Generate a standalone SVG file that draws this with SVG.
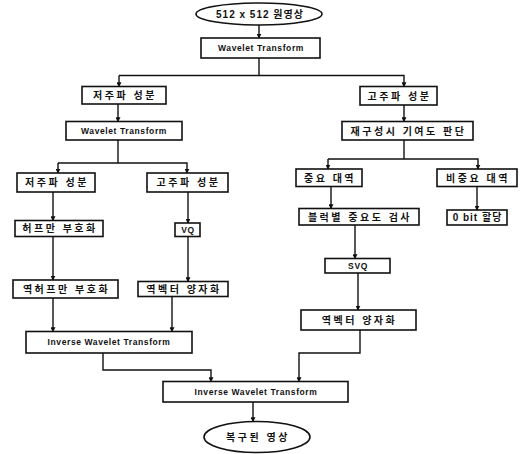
<svg xmlns="http://www.w3.org/2000/svg" width="521" height="454" viewBox="0 0 521 454">
<style>
.b{fill:#fff;stroke:#111;stroke-width:1.6}
.t{font-family:"Liberation Sans","Noto Sans CJK KR",sans-serif;font-size:10px;font-weight:bold;fill:#111;text-anchor:middle;dominant-baseline:central;letter-spacing:2.5px}
.s{letter-spacing:1px}
.e{font-family:"Liberation Sans",Arial,sans-serif;font-size:8.5px;font-weight:bold;fill:#111;text-anchor:middle;dominant-baseline:central;letter-spacing:0.6px}
.c{fill:none;stroke:#111;stroke-width:1.4;marker-end:url(#a)}
.l{fill:none;stroke:#111;stroke-width:1.4}
</style>
<defs>
<marker id="a" viewBox="0 0 8 8" refX="7" refY="4" markerWidth="5" markerHeight="5" orient="auto" markerUnits="userSpaceOnUse"><path d="M0,0L8,4L0,8z" fill="#111"/></marker>
</defs>
<rect width="521" height="454" fill="#fff"/>
<g id="connectors">
<path class="c" d="M259,25V38"/>
<path class="l" d="M259,58V75.5"/>
<path class="c" d="M119,75.5H404V86.5"/>
<path class="c" d="M119,75.5V86.5"/>
<path class="c" d="M118,104V121.5"/>
<path class="c" d="M404,105V121.5"/>
<path class="l" d="M118,140V163"/>
<path class="c" d="M58,163H187V173"/>
<path class="c" d="M58,163V173"/>
<path class="l" d="M404,140V159"/>
<path class="c" d="M328,159H478V169"/>
<path class="c" d="M328,159V169"/>
<path class="c" d="M53,192V220.5"/>
<path class="c" d="M188,192V223"/>
<path class="c" d="M53,236.5V280"/>
<path class="c" d="M188,236.5V281.5"/>
<path class="c" d="M331,186.5V208.5"/>
<path class="c" d="M477,186.5V210"/>
<path class="c" d="M355,225V258.5"/>
<path class="c" d="M358,273V310"/>
<path class="c" d="M53,298V331.5"/>
<path class="c" d="M172,296.5V331.5"/>
<path class="c" d="M103,353V370H211V381.5"/>
<path class="c" d="M360,330V353H299V381.5"/>
<path class="c" d="M253,402V421.5"/>
</g>
<g id="n_input"><ellipse class="b" cx="259" cy="14" rx="63" ry="11"/><text class="t s" x="260" y="14">512 x 512  원영상</text></g>
<g id="n_wt1"><rect class="b" x="201" y="38" width="119" height="20"/><text class="e" x="261" y="48">Wavelet Transform</text></g>
<g id="n_low1"><rect class="b" x="82" y="86.5" width="84" height="17.5"/><text class="t" x="125" y="95.5">저주파 성분</text></g>
<g id="n_high1"><rect class="b" x="360" y="86.5" width="77" height="18.5"/><text class="t" x="399.5" y="96">고주파 성분</text></g>
<g id="n_wt2"><rect class="b" x="66" y="121.5" width="116" height="18.5"/><text class="e" x="124" y="131">Wavelet Transform</text></g>
<g id="n_contrib"><rect class="b" x="342" y="121.5" width="131" height="18.5"/><text class="t" x="408.5" y="131">재구성시 기여도 판단</text></g>
<g id="n_low2"><rect class="b" x="17" y="173" width="78" height="19"/><text class="t" x="57" y="182.5">저주파 성분</text></g>
<g id="n_high2"><rect class="b" x="147" y="173" width="81" height="19"/><text class="t" x="188.5" y="182.5">고주파 성분</text></g>
<g id="n_imp"><rect class="b" x="296" y="169" width="66" height="17.5"/><text class="t" x="330" y="178">중요 대역</text></g>
<g id="n_nonimp"><rect class="b" x="437" y="169" width="80" height="17.5"/><text class="t" x="478" y="178">비중요 대역</text></g>
<g id="n_huff"><rect class="b" x="15" y="220.5" width="88" height="16"/><text class="t" x="60" y="228.5">허프만 부호화</text></g>
<g id="n_vq"><rect class="b" x="175" y="223" width="25" height="13.5"/><text class="e" x="188" y="230">VQ</text></g>
<g id="n_block"><rect class="b" x="299" y="208.5" width="120" height="16.5"/><text class="t" x="360" y="217">블럭별 중요도 검사</text></g>
<g id="n_zero"><rect class="b" x="447" y="210" width="60" height="15"/><text class="t s" x="477.5" y="217.5">0 bit  할당</text></g>
<g id="n_svq"><rect class="b" x="325" y="258.5" width="65" height="14.5"/><text class="e" x="358" y="266">SVQ</text></g>
<g id="n_ihuff"><rect class="b" x="13" y="280" width="105" height="18"/><text class="t" x="66.5" y="289">역허프만 부호화</text></g>
<g id="n_ivq1"><rect class="b" x="138" y="281.5" width="90" height="15"/><text class="t" x="184" y="289">역벡터 양자화</text></g>
<g id="n_ivq2"><rect class="b" x="301" y="310" width="115" height="20"/><text class="t" x="359.5" y="320">역벡터 양자화</text></g>
<g id="n_iwt1"><rect class="b" x="26" y="331.5" width="166" height="21.5"/><text class="e" x="109" y="342">Inverse Wavelet Transform</text></g>
<g id="n_iwt2"><rect class="b" x="163" y="381.5" width="185" height="20.5"/><text class="e" x="256" y="392">Inverse  Wavelet  Transform</text></g>
<g id="n_output"><ellipse class="b" cx="257" cy="437" rx="53" ry="15.5"/><text class="t" x="258" y="437">복구된 영상</text></g>
</svg>
